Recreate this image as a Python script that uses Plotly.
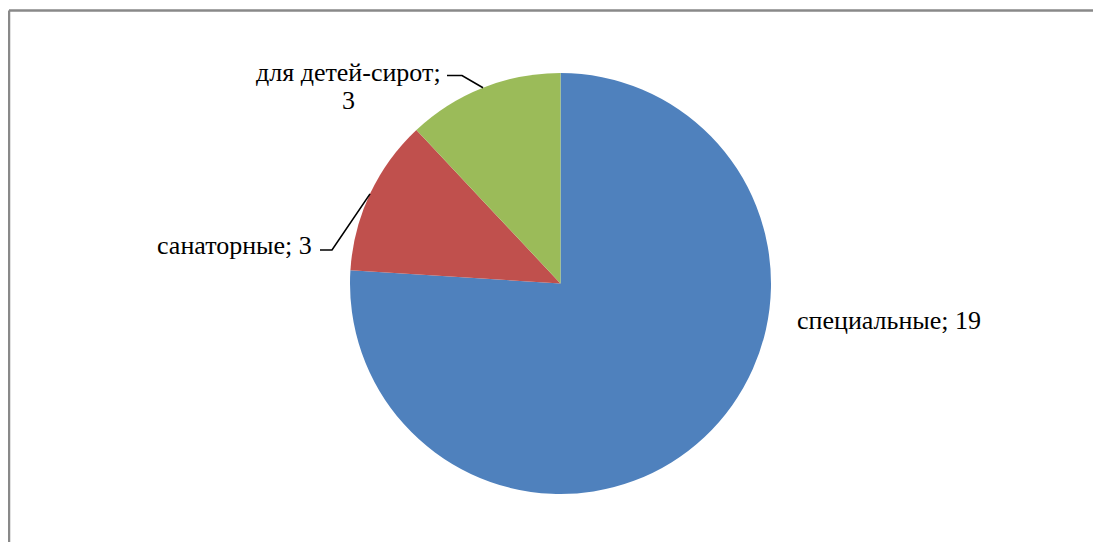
import math
import plotly.graph_objects as go

categories = ["специальные", "санаторные", "для детей-сирот"]
values = [19, 3, 3]
colors = ["#4F81BD", "#C0504D", "#9BBB59"]

W, H = 1085, 534  # window minus body margins, so the page does not scroll
OFF = 8  # page offset of the plot div (body margin)
cx, cy, R = 560.5, 283.5, 210.5  # page-pixel geometry of the pie


def px(x):
    return (x - OFF) / W


def py(y):
    return 1 - (y - OFF) / H


fig = go.Figure(go.Pie(
    labels=categories,
    values=values,
    marker=dict(colors=colors, line=dict(width=0)),
    sort=False,
    direction="clockwise",
    rotation=0,
    textinfo="none",
    hoverinfo="label+value",
    showlegend=False,
    domain=dict(x=[px(cx - R), px(cx + R)], y=[py(cy + R), py(cy - R)]),
))

# mid angles of slices (degrees clockwise from 12 o'clock)
total = sum(values)
mids = []
acc = 0
for v in values:
    mids.append((acc + v / 2) / total * 360)
    acc += v


def edge(i):
    a = math.radians(mids[i])
    return cx + R * math.sin(a), cy - R * math.cos(a)


font = dict(family="Liberation Serif, Times New Roman, serif", size=26, color="#000000")
annotations = [
    dict(x=px(795), y=py(320), xanchor="left", yanchor="middle",
         text=f"{categories[0]}; {values[0]}", showarrow=False, font=font),
    dict(x=px(314), y=py(245), xanchor="right", yanchor="middle",
         text=f"{categories[1]}; {values[1]}", showarrow=False, font=font),
    dict(x=px(348), y=py(73), xanchor="center", yanchor="middle",
         text=f"{categories[2]};", showarrow=False, font=font),
    dict(x=px(348), y=py(101), xanchor="center", yanchor="middle",
         text=f"{values[2]}", showarrow=False, font=font),
]

border = dict(color="#898989", width=2.5)
shapes = [
    dict(type="line", xref="paper", yref="paper",
         x0=px(9), x1=px(1200), y0=py(10.5), y1=py(10.5), line=border),
    dict(type="line", xref="paper", yref="paper",
         x0=px(9), x1=px(9), y0=py(10.5), y1=py(700), line=border),
]

# leader lines
ex, ey = edge(1)
shapes.append(dict(type="path", xref="paper", yref="paper",
                   path=f"M {px(320)} {py(250)} L {px(332)} {py(250)} L {px(ex)} {py(ey)}",
                   line=dict(color="#000000", width=1.6)))
ex, ey = edge(2)
shapes.append(dict(type="path", xref="paper", yref="paper",
                   path=f"M {px(447)} {py(75.5)} L {px(462)} {py(75.5)} L {px(ex)} {py(ey)}",
                   line=dict(color="#000000", width=1.6)))

fig.update_layout(
    width=W, height=H,
    margin=dict(l=0, r=0, t=0, b=0),
    paper_bgcolor="#FFFFFF",
    plot_bgcolor="#FFFFFF",
    annotations=annotations,
    shapes=shapes,
)

fig.write_html("out.html")
